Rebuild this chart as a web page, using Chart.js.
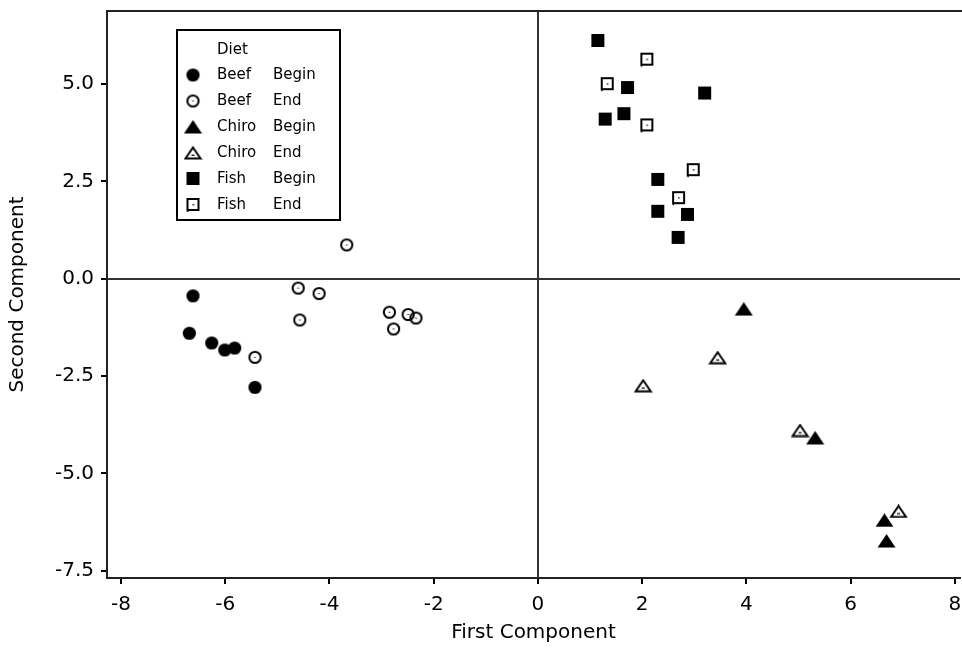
<!DOCTYPE html>
<html>
<head>
<meta charset="utf-8">
<script src="https://cdn.jsdelivr.net/npm/chart.js@4.4.0/dist/chart.umd.min.js"></script>
<style>
html, body { margin: 0; padding: 0; background: #fff; }
#wrap { width: 962px; height: 649px; }
</style>
</head>
<body>
<div id="wrap"><canvas id="pcaChart" width="962" height="649"></canvas></div>
<script>
// tick labels
const xTicks = [-8, -6, -4, -2, 0, 2, 4, 6, 8];
const yTicks = [-7.5, -5, -2.5, 0, 2.5, 5];

// legend rows
const diets = ['Beef', 'Beef', 'Chiro', 'Chiro', 'Fish', 'Fish'];
const phases = ['Begin', 'End', 'Begin', 'End', 'Begin', 'End'];

// [first component, second component]
const beefBegin = [[-6.62, -0.44], [-6.69, -1.40], [-6.26, -1.65], [-6.01, -1.83], [-5.82, -1.78], [-5.43, -2.79]];
const beefEnd = [[-3.67, 0.87], [-4.60, -0.24], [-4.20, -0.38], [-4.57, -1.06], [-2.85, -0.86], [-2.49, -0.92], [-2.34, -1.01], [-2.77, -1.29], [-5.43, -2.02]];
const chiroBegin = [[3.95, -0.78], [5.32, -4.09], [6.65, -6.21], [6.69, -6.74]];
const chiroEnd = [[3.45, -2.03], [2.02, -2.75], [5.03, -3.90], [6.92, -5.98]];
const fishBegin = [[1.15, 6.11], [1.72, 4.90], [3.20, 4.76], [1.29, 4.09], [1.65, 4.23], [2.30, 2.54], [2.30, 1.72], [2.87, 1.64], [2.69, 1.05]];
const fishEnd = [[2.09, 5.63], [1.33, 5.00], [2.09, 3.94], [2.98, 2.79], [2.70, 2.07]];

// marker images
function makeMarker(kind) {
    var c = document.createElement('canvas');
    var ctx;
    if (kind == 'circle' || kind == 'circleOpen') {
        c.width = 15; c.height = 15;
        ctx = c.getContext('2d');
        ctx.beginPath();
        if (kind == 'circle') {
            ctx.arc(7.5, 7.5, 6.6, 0, Math.PI * 2);
            ctx.fillStyle = '#000';
            ctx.fill();
        } else {
            ctx.arc(7.5, 7.5, 5.6, 0, Math.PI * 2);
            ctx.lineWidth = 2;
            ctx.strokeStyle = '#000';
            ctx.stroke();
            ctx.fillStyle = '#333';
            ctx.fillRect(6.5, 7, 2, 1);
        }
    } else if (kind == 'triangle' || kind == 'triangleOpen') {
        c.width = 19; c.height = 14;
        ctx = c.getContext('2d');
        ctx.beginPath();
        if (kind == 'triangle') {
            ctx.moveTo(9.5, 0);
            ctx.lineTo(18.5, 13.5);
            ctx.lineTo(0.5, 13.5);
            ctx.closePath();
            ctx.fillStyle = '#000';
            ctx.fill();
        } else {
            ctx.moveTo(9.5, 1.5);
            ctx.lineTo(17, 12.5);
            ctx.lineTo(2, 12.5);
            ctx.closePath();
            ctx.lineWidth = 2;
            ctx.strokeStyle = '#000';
            ctx.stroke();
            ctx.fillStyle = '#222';
            ctx.fillRect(8, 8.5, 3, 1.5);
        }
    } else {
        c.width = 15; c.height = 16;
        ctx = c.getContext('2d');
        ctx.fillStyle = '#000';
        if (kind == 'square') {
            ctx.fillRect(1, 1, 13, 13);
        } else {
            ctx.lineWidth = 2;
            ctx.strokeStyle = '#000';
            ctx.strokeRect(2, 2, 11, 11);
            ctx.fillStyle = '#222';
            ctx.fillRect(7, 7, 1.5, 1.5);
            ctx.fillStyle = '#000';
            ctx.fillRect(1.5, 13, 1.5, 2);
        }
    }
    return c;
}

const markers = [
    makeMarker('circle'), makeMarker('circleOpen'),
    makeMarker('triangle'), makeMarker('triangleOpen'),
    makeMarker('square'), makeMarker('squareOpen')
];

const series = [beefBegin, beefEnd, chiroBegin, chiroEnd, fishBegin, fishEnd];

const datasets = series.map(function (pts, i) {
    return {
        label: diets[i] + ' ' + phases[i],
        data: pts.map(function (p) { return { x: p[0], y: p[1] }; }),
        pointStyle: markers[i],
        pointRadius: 7,
        showLine: false
    };
});

const FONT = '"DejaVu Sans", sans-serif';

function noEdgePadding(scale) {
    scale.paddingTop = 0;
    scale.paddingBottom = 0;
    scale.paddingLeft = 0;
    scale.paddingRight = 0;
}

// chart.js keeps some room on the right for the last tick label, push the plot out to the edge
const fullWidth = {
    id: 'fullWidth',
    afterLayout(chart) {
        const right = chart.width - 2;
        const x = chart.scales.x;
        chart.chartArea.right = right;
        chart.chartArea.width = right - chart.chartArea.left;
        x.right = right;
        x.width = right - x.left;
        x.configure();
    }
};

// boxed legend with two text columns + top frame line
const dietLegend = {
    id: 'dietLegend',
    afterDraw(chart) {
        const ctx = chart.ctx;
        const area = chart.chartArea;
        ctx.save();
        ctx.strokeStyle = '#222';
        ctx.lineWidth = 2;
        ctx.beginPath();
        ctx.moveTo(area.left, area.top);
        ctx.lineTo(chart.width, area.top);
        ctx.stroke();

        ctx.strokeStyle = '#000';
        ctx.fillStyle = '#fff';
        ctx.fillRect(177, 30, 163, 190);
        ctx.strokeRect(177, 30, 163, 190);

        ctx.fillStyle = '#000';
        ctx.font = '15px ' + FONT;
        ctx.textBaseline = 'middle';
        ctx.textAlign = 'left';
        ctx.fillText('Diet', 217, 50);
        for (var i = 0; i < diets.length; i++) {
            var y = 75 + i * 26;
            var img = markers[i];
            ctx.drawImage(img, 193 - img.width / 2, y - img.height / 2);
            ctx.fillText(diets[i], 217, y);
            ctx.fillText(phases[i], 273, y);
        }
        ctx.restore();
    }
};

new Chart(document.getElementById('pcaChart'), {
    type: 'scatter',
    data: { datasets: datasets },
    options: {
        responsive: false,
        animation: false,
        devicePixelRatio: 1,
        events: [],
        layout: { padding: { top: 11, right: 2, left: 0, bottom: 0 } },
        plugins: {
            legend: { display: false },
            tooltip: { enabled: false }
        },
        scales: {
            x: {
                type: 'linear',
                min: -8.27,
                max: 8.10,
                afterBuildTicks: function (scale) {
                    scale.ticks = xTicks.map(function (v) { return { value: v }; });
                },
                afterFit: function (scale) { scale.height = 71; noEdgePadding(scale); },
                ticks: {
                    color: '#000',
                    font: { family: FONT, size: 20 },
                    padding: 9,
                    maxRotation: 0,
                    callback: function (v) { return String(v); }
                },
                grid: {
                    drawOnChartArea: true,
                    color: function (c) { return c.tick && c.tick.value === 0 ? '#333' : 'rgba(0,0,0,0)'; },
                    lineWidth: 2,
                    tickColor: '#000',
                    tickWidth: 2,
                    tickLength: 6
                },
                border: { display: true, color: '#222', width: 2 },
                title: {
                    display: true,
                    text: 'First Component',
                    color: '#000',
                    font: { family: FONT, size: 20 },
                    padding: { top: 0, bottom: 4 }
                }
            },
            y: {
                type: 'linear',
                min: -7.69,
                max: 6.88,
                afterBuildTicks: function (scale) {
                    scale.ticks = yTicks.map(function (v) { return { value: v }; });
                },
                afterFit: function (scale) { scale.width = 107; noEdgePadding(scale); },
                ticks: {
                    color: '#000',
                    font: { family: FONT, size: 20 },
                    padding: 7,
                    callback: function (v) { return v.toFixed(1); }
                },
                grid: {
                    drawOnChartArea: true,
                    color: function (c) { return c.tick && c.tick.value === 0 ? '#333' : 'rgba(0,0,0,0)'; },
                    lineWidth: 2,
                    tickColor: '#000',
                    tickWidth: 2,
                    tickLength: 6
                },
                border: { display: true, color: '#222', width: 2 },
                title: {
                    display: true,
                    text: 'Second Component',
                    color: '#000',
                    font: { family: FONT, size: 20 },
                    padding: { top: 6, bottom: 0 }
                }
            }
        }
    },
    plugins: [fullWidth, dietLegend]
});
</script>
</body>
</html>
